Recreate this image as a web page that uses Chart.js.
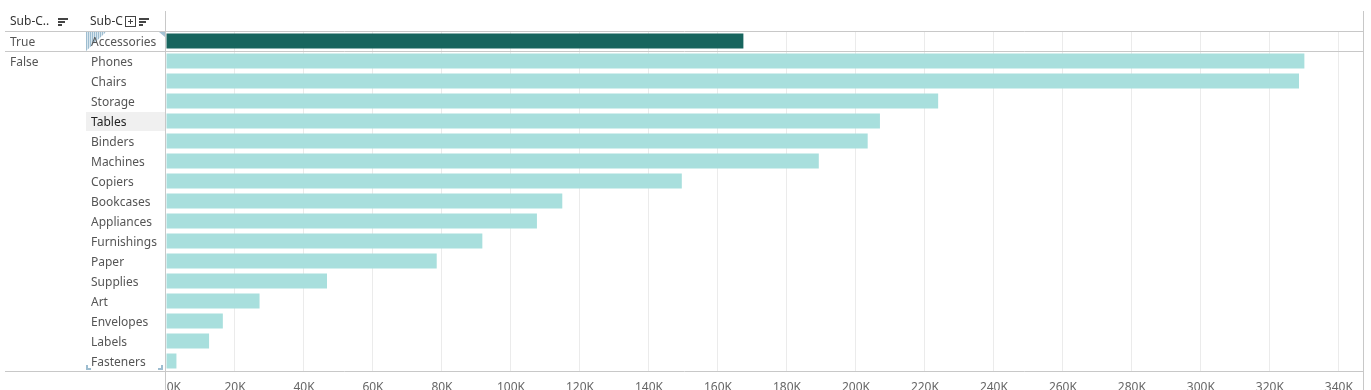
<!DOCTYPE html>
<html>
<head>
<meta charset="utf-8">
<script src="https://cdn.jsdelivr.net/npm/chart.js@4.4.1/dist/chart.umd.min.js"></script>
<style>
  html, body { margin: 0; padding: 0; background: #fff; overflow: hidden; }
  #wrap { position: relative; width: 1371px; height: 400px; }
</style>
</head>
<body>
<div id="wrap"><canvas id="myChart" width="1371" height="400"></canvas></div>
<script>
// data
const subCategories = ['Accessories', 'Phones', 'Chairs', 'Storage', 'Tables', 'Binders', 'Machines', 'Copiers',
    'Bookcases', 'Appliances', 'Furnishings', 'Paper', 'Supplies', 'Art', 'Envelopes', 'Labels', 'Fasteners'];
const sales = [167380, 330007, 328449, 223844, 206966, 203413, 189239, 149528,
    114880, 107532, 91705, 78479, 46674, 27119, 16476, 12486, 3024];
const groupLabels = ['True', 'False'];
const groupStart = [0, 1];          // first row index of each group
const headerLabels = ['Sub-C..', 'Sub-C'];
const xMax = 347000;
const xStep = 20000;
const selectedRow = 'Accessories';
const hoverRow = 'Tables';

const darkTeal = '#17655e';
const lightTeal = '#a8dfdd';
const lineGrey = '#c8c8c8';
const labelFont = '12px "Noto Sans"';

const tableauPlugin = {
    id: 'tableauPlugin',
    afterDraw(chart) {
        const ctx = chart.ctx;
        const area = chart.chartArea;
        const y = chart.scales.y;
        const rowH = (area.bottom - area.top) / subCategories.length;
        ctx.save();

        // hovered row background
        const hi = subCategories.indexOf(hoverRow);
        const hy = y.getPixelForValue(hi);
        ctx.fillStyle = '#f0f0f0';
        ctx.fillRect(86, hy - rowH / 2 + 1, 79, rowH - 1);

        // header text
        ctx.font = labelFont;
        ctx.textBaseline = 'middle';
        ctx.fillStyle = '#333';
        ctx.fillText(headerLabels[0], 10, 21.5);
        ctx.fillText(headerLabels[1], 90, 21.5);

        // sort icons
        function sortIcon(x) {
            ctx.fillStyle = '#444';
            ctx.fillRect(x, 18, 10, 2);
            ctx.fillRect(x, 21, 7, 2);
            ctx.fillRect(x, 24, 4, 2);
        }
        sortIcon(58);
        sortIcon(139);
        // boxed plus
        ctx.strokeStyle = '#444';
        ctx.lineWidth = 1;
        ctx.strokeRect(125.5, 16.5, 10, 10);
        ctx.beginPath();
        ctx.moveTo(128, 21.5); ctx.lineTo(133, 21.5);
        ctx.moveTo(130.5, 19); ctx.lineTo(130.5, 24);
        ctx.stroke();

        // selection triangle (hatched)
        ctx.save();
        ctx.beginPath();
        ctx.moveTo(86, area.top + 1);
        ctx.lineTo(106, area.top + 1);
        ctx.lineTo(86, area.top + rowH);
        ctx.closePath();
        ctx.fillStyle = '#d9e6ee';
        ctx.fill();
        ctx.clip();
        ctx.fillStyle = '#9dbdd0';
        for (let sx = 86; sx < 106; sx += 2) ctx.fillRect(sx, area.top, 1, rowH);
        ctx.restore();
        ctx.fillStyle = '#a5c3d4';
        ctx.beginPath();
        ctx.moveTo(159, area.top + 1);
        ctx.lineTo(165, area.top + 1);
        ctx.lineTo(165, area.top + 6);
        ctx.closePath();
        ctx.fill();

        // row labels
        ctx.font = labelFont;
        subCategories.forEach((name, i) => {
            ctx.fillStyle = name === hoverRow ? '#222' : '#555';
            ctx.fillText(name, 91, y.getPixelForValue(i) + 1.5);
        });
        // group labels
        ctx.fillStyle = '#555';
        groupLabels.forEach((g, i) => {
            ctx.fillText(g, 10, y.getPixelForValue(groupStart[i]) + 1.5);
        });

        // separators
        ctx.strokeStyle = lineGrey;
        ctx.lineWidth = 1;
        ctx.beginPath();
        ctx.moveTo(5, area.top + 0.5); ctx.lineTo(area.right + 1, area.top + 0.5);
        groupStart.slice(1).forEach(s => {
            const sy = Math.round(y.getPixelForValue(s) - rowH / 2) + 0.5;
            ctx.moveTo(5, sy); ctx.lineTo(area.right + 1, sy);
        });
        ctx.moveTo(5, area.bottom + 0.5); ctx.lineTo(area.right + 1, area.bottom + 0.5);
        ctx.moveTo(area.left - 0.5, 11); ctx.lineTo(area.left - 0.5, 400);
        ctx.moveTo(area.right + 0.5, 11); ctx.lineTo(area.right + 0.5, 400);
        ctx.stroke();

        // bottom selection brackets
        ctx.fillStyle = '#9dbdd0';
        ctx.fillRect(86, area.bottom - 6, 2, 5);
        ctx.fillRect(86, area.bottom - 3, 5, 2);
        ctx.fillRect(161, area.bottom - 6, 2, 5);
        ctx.fillRect(158, area.bottom - 3, 5, 2);

        ctx.restore();
    }
};

document.addEventListener('DOMContentLoaded', function () {
    const ctx = document.getElementById('myChart').getContext('2d');
    new Chart(ctx, {
        type: 'bar',
        data: {
            labels: subCategories,
            datasets: [{
                data: sales,
                backgroundColor: subCategories.map(c => c === selectedRow ? darkTeal : lightTeal),
                borderWidth: 0,
                barPercentage: 0.75,
                categoryPercentage: 1
            }]
        },
        options: {
            indexAxis: 'y',
            responsive: false,
            animation: false,
            layout: { padding: { left: 166, top: 31, right: 8, bottom: 0 } },
            plugins: { legend: { display: false }, tooltip: { enabled: false } },
            scales: {
                y: { display: false },
                x: {
                    min: 0,
                    max: xMax,
                    afterFit: s => { s.height = 29; },
                    afterBuildTicks: s => {
                        s.ticks = [];
                        for (let v = 0; v <= xMax; v += xStep) s.ticks.push({ value: v });
                    },
                    border: { display: false },
                    grid: {
                        drawTicks: false,
                        color: c => (c.tick && c.tick.value === 0) ? 'rgba(0,0,0,0)' : '#ebebeb'
                    },
                    ticks: {
                        padding: 9,
                        maxRotation: 0,
                        autoSkip: false,
                        color: '#666',
                        font: { family: 'Noto Sans', size: 12 },
                        // first label sits inside the pane, like Tableau does
                        callback: v => v === 0 ? '     0K' : (v / 1000) + 'K'
                    }
                }
            }
        },
        plugins: [tableauPlugin]
    });
});
</script>
</body>
</html>
